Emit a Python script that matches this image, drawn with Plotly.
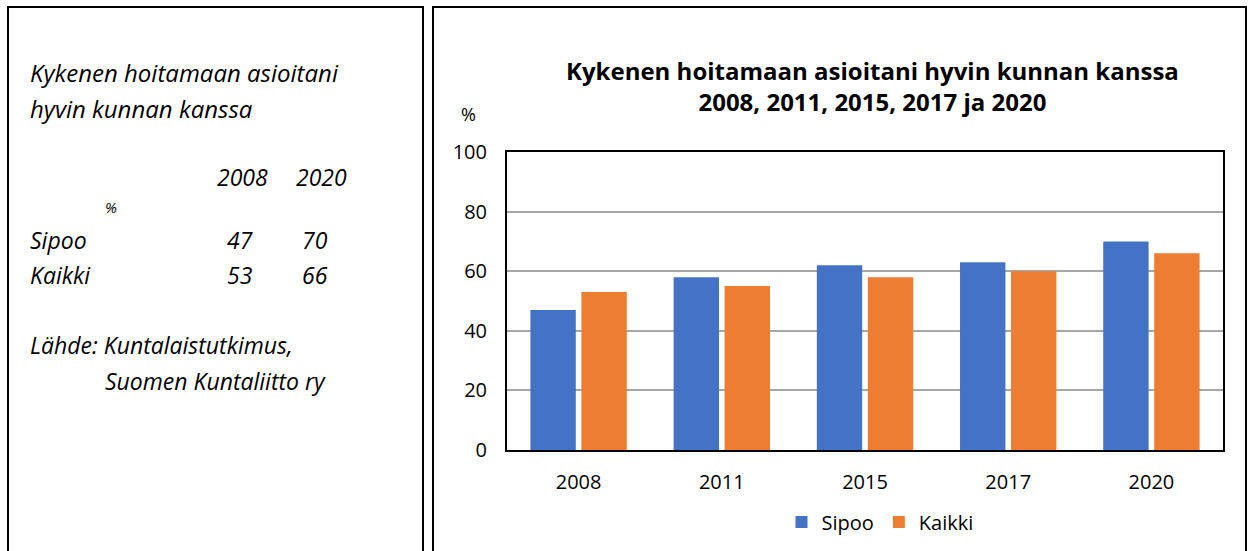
import plotly.graph_objects as go

years = ["2008", "2011", "2015", "2017", "2020"]
sipoo = [47, 58, 62, 63, 70]
kaikki = [53, 55, 58, 60, 66]
series_names = ["Sipoo", "Kaikki"]
colors = ["#4472C4", "#ED7D31"]
y_ticks = [0, 20, 40, 60, 80, 100]

W, H = 1252, 551
FONT = "Open Sans"

def px(x):
    return x / W

def py(y):
    return 1 - y / H

fig = go.Figure()
for name, vals, col in zip(series_names, [sipoo, kaikki], colors):
    fig.add_trace(go.Bar(x=years, y=vals, name=name, marker=dict(color=col, line=dict(width=0))))

fig.update_layout(
    width=W, height=H,
    margin=dict(l=0, r=0, t=0, b=0, autoexpand=False),
    paper_bgcolor="white", plot_bgcolor="white",
    barmode="group", bargap=0.288, bargroupgap=0.11,
    font=dict(family=FONT, color="black"),
    showlegend=True,
    legend=dict(orientation="h", x=px(880), xanchor="center", y=py(522), yanchor="middle",
                font=dict(size=20, family=FONT), traceorder="normal", itemwidth=30),
    xaxis=dict(domain=[px(507), px(1223)], showline=True, linecolor="black", linewidth=2,
               mirror=True, ticks="", tickfont=dict(size=20, family=FONT), ticklabelstandoff=13,
               showgrid=False, fixedrange=True, automargin=False),
    yaxis=dict(domain=[py(450), py(152)], range=[0, 100], tickvals=y_ticks, showline=True,
               linecolor="black", linewidth=2, mirror=True, showgrid=True, gridcolor="#A6A6A6",
               gridwidth=1.5, ticks="", tickfont=dict(size=20, family=FONT), ticklabelstandoff=14,
               zeroline=False, fixedrange=True, automargin=False),
)

# panel frames
fig.add_shape(type="rect", xref="paper", yref="paper", x0=px(8), x1=px(423), y0=py(560), y1=py(7),
              line=dict(color="black", width=2))
fig.add_shape(type="rect", xref="paper", yref="paper", x0=px(433), x1=px(1246), y0=py(560), y1=py(7),
              line=dict(color="black", width=2))

# chart title
fig.add_annotation(xref="paper", yref="paper", x=px(872), y=py(86), xanchor="center", yanchor="middle",
                   text="<b>Kykenen hoitamaan asioitani hyvin kunnan kanssa<br>2008, 2011, 2015, 2017 ja 2020</b>",
                   showarrow=False, font=dict(size=24, family=FONT, color="black"), align="center")
fig.add_annotation(xref="paper", yref="paper", x=px(468), y=py(114), xanchor="center", yanchor="middle",
                   text="%", showarrow=False, font=dict(size=18, family=FONT))

# left text panel
def left_text(txt, x, y, size=23, anchor="left"):
    fig.add_annotation(xref="paper", yref="paper", x=px(x), y=py(y), xanchor=anchor, yanchor="middle",
                       text="<i>" + txt + "</i>", showarrow=False, font=dict(size=size, family=FONT))

left_text("Kykenen hoitamaan asioitani", 28, 72, size=24)
left_text("hyvin kunnan kanssa", 28, 108, size=24)
left_text(years[0], 270, 177, anchor="right")
left_text(years[-1], 349, 177, anchor="right")
left_text("%", 111, 207, size=15, anchor="center")
left_text(series_names[0], 28, 240)
left_text(str(sipoo[0]), 255, 240, anchor="right")
left_text(str(sipoo[-1]), 330, 240, anchor="right")
left_text(series_names[1], 28, 275)
left_text(str(kaikki[0]), 255, 275, anchor="right")
left_text(str(kaikki[-1]), 330, 275, anchor="right")
left_text("Lähde: Kuntalaistutkimus,", 28, 345)
left_text("Suomen Kuntaliitto ry", 103, 381)

fig.write_html("out.html", config={"displayModeBar": False},
               post_script="document.body.style.margin='0';document.body.style.overflow='hidden';")
